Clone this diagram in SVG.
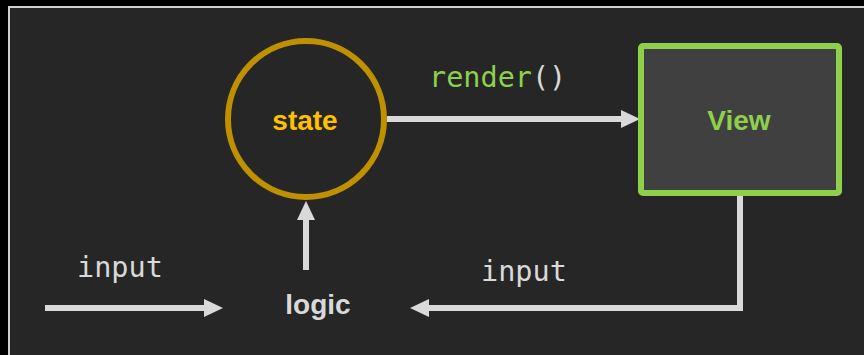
<svg xmlns="http://www.w3.org/2000/svg" width="864" height="355" viewBox="0 0 864 355">
  <style>
    .label { font-family: "Liberation Sans", Arial, sans-serif; font-weight: bold; font-size: 28px; text-anchor: middle; }
    .code { font-family: "DejaVu Sans Mono", "Liberation Mono", monospace; font-size: 28.5px; }
    .wire { fill: none; stroke: #d9d9d9; stroke-width: 6; marker-end: url(#head); }
  </style>
  <defs>
    <marker id="head" markerUnits="userSpaceOnUse" viewBox="0 -10 20 20" markerWidth="20" markerHeight="20" refX="1" refY="0" orient="auto">
      <path d="M0,-9 L19,0 L0,9 z" fill="#d9d9d9"/>
    </marker>
  </defs>

  <!-- backdrop and panel -->
  <rect x="0" y="0" width="864" height="355" fill="#000"/>
  <rect x="9" y="7" width="880" height="370" fill="#262626" stroke="#d0d0d0" stroke-width="2"/>

  <!-- connectors -->
  <g id="connectors">
    <line class="wire" x1="45" y1="308" x2="205" y2="308"/>
    <line class="wire" x1="306" y1="270" x2="306" y2="219"/>
    <line class="wire" x1="387" y1="119" x2="622" y2="119"/>
    <polyline class="wire" points="740,196 740,308 428,308"/>
    <text class="code" x="77" y="277" fill="#d9d9d9">input</text>
    <text class="code" x="481" y="281" fill="#d9d9d9">input</text>
    <text class="code" x="429" y="87"><tspan fill="#8ed04c">render</tspan><tspan fill="#d9d9d9">()</tspan></text>
  </g>

  <!-- state -->
  <g id="state">
    <circle cx="306" cy="119" r="78" fill="#262626" stroke="#bf9000" stroke-width="6"/>
    <text class="label" x="305" y="130" fill="#ffc000">state</text>
  </g>

  <!-- view -->
  <g id="view">
    <rect x="641" y="46" width="198" height="147" rx="2" fill="#404040" stroke="#8ed04c" stroke-width="6"/>
    <text class="label" x="739" y="130" fill="#8ed04c">View</text>
  </g>

  <!-- logic -->
  <g id="logic">
    <text class="label" x="318" y="314" fill="#d9d9d9">logic</text>
  </g>
</svg>
